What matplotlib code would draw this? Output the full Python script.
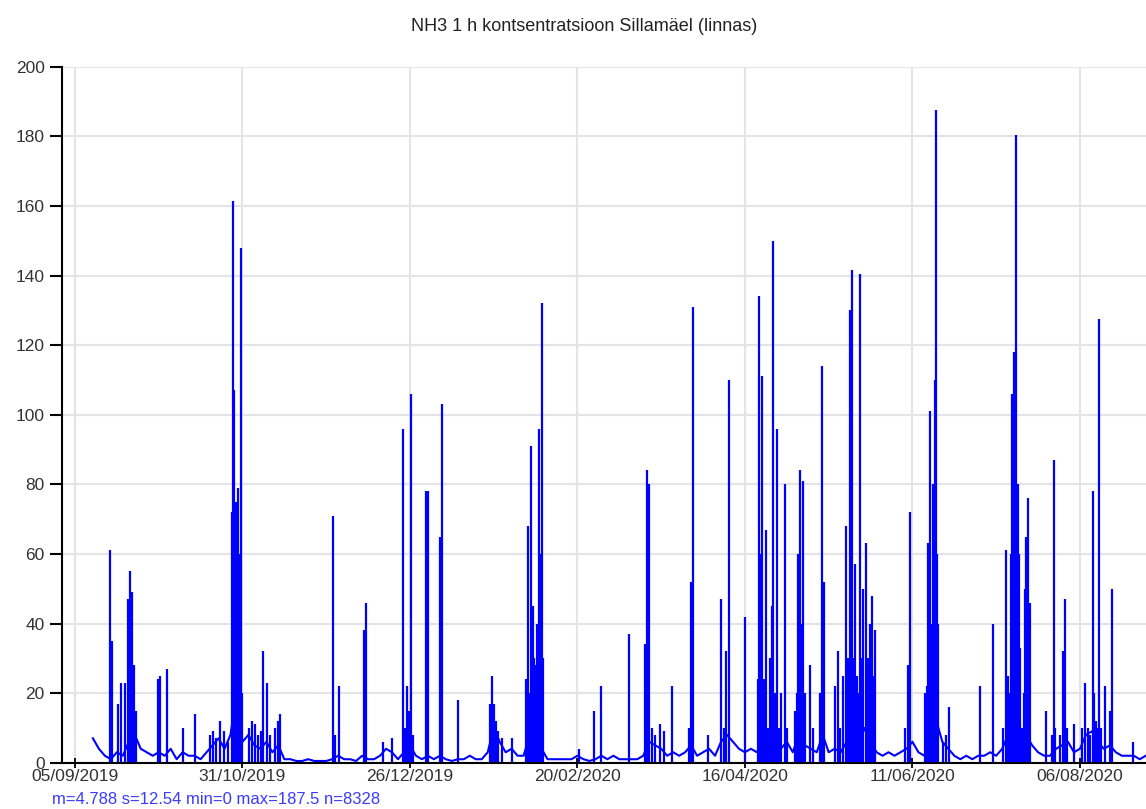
import numpy as np
import pandas as pd
import matplotlib
matplotlib.use('Agg')
import matplotlib.pyplot as plt

plt.rcParams['font.family'] = ['Liberation Sans', 'DejaVu Sans']

title = 'NH3 1 h kontsentratsioon Sillamäel (linnas)'
stats = 'm=4.788 s=12.54 min=0 max=187.5 n=8328'

tick_labels = ['05/09/2019', '31/10/2019', '26/12/2019', '20/02/2020',
               '16/04/2020', '11/06/2020', '06/08/2020']

# low background level, read roughly every second day from 11/09/2019
bg_start = '2019-09-11'
bg_vals = [7, 4, 2, 1, 3, 2, 6, 8, 4, 3, 2, 3, 2, 4, 1, 3, 2, 2, 1, 3,
           5, 7, 4, 8, 20, 6, 8, 5, 4, 6, 3, 5, 1, 1, 0.5, 0.5, 1, 0.5, 0.5, 0.5,
           1, 2, 1, 1, 0.5, 2, 1, 1, 2, 4, 3, 1, 3, 5, 2, 1, 2, 1, 2, 1,
           0.5, 1, 1, 2, 1, 1, 3, 10, 6, 3, 4, 2, 2, 8, 10, 4, 1, 1, 1, 1,
           1, 2, 1, 0.5, 1, 2, 1, 2, 1, 1, 1, 1, 2, 6, 5, 4, 2, 3, 2, 3,
           5, 2, 3, 4, 2, 6, 8, 6, 4, 3, 4, 3, 6, 8, 5, 4, 6, 3, 8, 5,
           4, 3, 8, 3, 4, 3, 6, 8, 5, 10, 6, 3, 2, 3, 2, 3, 4, 6, 3, 2,
           8, 12, 6, 4, 2, 1, 2, 1, 2, 2, 3, 2, 4, 8, 15, 10, 8, 5, 3, 2,
           2, 4, 5, 6, 3, 4, 8, 9, 6, 4, 5, 3, 2, 2, 2, 1, 2]

# hourly peaks
spike_times = [
    '2019-09-16 17:00', '2019-09-17 09:00', '2019-09-19 09:00', '2019-09-20 09:00',
    '2019-09-21 17:00', '2019-09-22 17:00', '2019-09-23 09:00', '2019-09-24 01:00',
    '2019-09-24 17:00', '2019-09-25 09:00', '2019-10-02 18:00', '2019-10-03 10:00',
    '2019-10-05 18:00', '2019-10-11 02:00', '2019-10-15 03:00', '2019-10-20 03:00',
    '2019-10-21 03:00', '2019-10-22 03:00', '2019-10-23 12:00', '2019-10-24 20:00',
    '2019-10-26 04:00', '2019-10-27 12:00', '2019-10-27 20:00', '2019-10-28 04:00',
    '2019-10-28 12:00', '2019-10-28 20:00', '2019-10-29 04:00', '2019-10-29 12:00',
    '2019-10-29 20:00', '2019-10-30 04:00', '2019-10-30 12:00', '2019-10-30 20:00',
    '2019-11-02 04:00', '2019-11-03 04:00', '2019-11-04 04:00', '2019-11-05 04:00',
    '2019-11-06 04:00', '2019-11-06 21:00', '2019-11-08 05:00', '2019-11-09 05:00',
    '2019-11-10 21:00', '2019-11-11 21:00', '2019-11-12 13:00', '2019-11-30 06:00',
    '2019-11-30 22:00', '2019-12-02 06:00', '2019-12-10 15:00', '2019-12-11 07:00',
    '2019-12-17 00:00', '2019-12-20 00:00', '2019-12-23 16:00', '2019-12-24 08:00',
    '2019-12-25 00:00', '2019-12-25 16:00', '2019-12-26 08:00', '2019-12-27 00:00',
    '2019-12-31 08:00', '2020-01-01 00:00', '2020-01-05 01:00', '2020-01-05 17:00',
    '2020-01-11 01:00', '2020-01-21 18:00', '2020-01-22 10:00', '2020-01-23 02:00',
    '2020-01-23 18:00', '2020-01-24 10:00', '2020-01-25 18:00', '2020-01-29 02:00',
    '2020-02-02 19:00', '2020-02-03 11:00', '2020-02-04 03:00', '2020-02-04 11:00',
    '2020-02-05 03:00', '2020-02-05 11:00', '2020-02-06 03:00', '2020-02-06 11:00',
    '2020-02-07 03:00', '2020-02-07 11:00', '2020-02-08 03:00', '2020-02-08 11:00',
    '2020-02-20 12:00', '2020-02-25 12:00', '2020-02-27 21:00', '2020-03-08 05:00',
    '2020-03-13 14:00', '2020-03-14 06:00', '2020-03-14 22:00', '2020-03-15 22:00',
    '2020-03-16 22:00', '2020-03-18 14:00', '2020-03-19 22:00', '2020-03-22 14:00',
    '2020-03-28 07:00', '2020-03-28 23:00', '2020-03-29 15:00', '2020-04-03 14:00',
    '2020-04-07 23:00', '2020-04-08 23:00', '2020-04-09 16:00', '2020-04-10 16:00',
    '2020-04-16 00:00', '2020-04-20 08:00', '2020-04-20 17:00', '2020-04-21 00:00',
    '2020-04-21 17:00', '2020-04-22 00:00', '2020-04-22 09:00', '2020-04-23 01:00',
    '2020-04-23 17:00', '2020-04-24 09:00', '2020-04-25 01:00', '2020-04-25 09:00',
    '2020-04-26 01:00', '2020-04-26 17:00', '2020-04-27 09:00', '2020-04-28 01:00',
    '2020-04-29 09:00', '2020-04-30 01:00', '2020-05-02 17:00', '2020-05-03 09:00',
    '2020-05-03 17:00', '2020-05-04 10:00', '2020-05-04 18:00', '2020-05-05 10:00',
    '2020-05-06 02:00', '2020-05-07 18:00', '2020-05-08 18:00', '2020-05-11 02:00',
    '2020-05-11 18:00', '2020-05-12 10:00', '2020-05-16 02:00', '2020-05-17 02:00',
    '2020-05-17 18:00', '2020-05-18 18:00', '2020-05-19 18:00', '2020-05-20 11:00',
    '2020-05-21 03:00', '2020-05-21 11:00', '2020-05-21 19:00', '2020-05-22 03:00',
    '2020-05-22 19:00', '2020-05-23 11:00', '2020-05-24 03:00', '2020-05-24 11:00',
    '2020-05-25 03:00', '2020-05-25 11:00', '2020-05-26 11:00', '2020-05-27 03:00',
    '2020-05-27 19:00', '2020-05-28 11:00', '2020-05-28 19:00', '2020-05-29 11:00',
    '2020-06-08 12:00', '2020-06-09 12:00', '2020-06-10 04:00', '2020-06-15 05:00',
    '2020-06-15 21:00', '2020-06-16 05:00', '2020-06-16 21:00', '2020-06-17 05:00',
    '2020-06-17 13:00', '2020-06-17 21:00', '2020-06-18 05:00', '2020-06-18 13:00',
    '2020-06-18 21:00', '2020-06-19 05:00', '2020-06-19 13:00', '2020-06-21 05:00',
    '2020-06-22 05:00', '2020-06-23 05:00', '2020-07-03 14:00', '2020-07-07 22:00',
    '2020-07-11 06:00', '2020-07-12 06:00', '2020-07-12 22:00', '2020-07-13 14:00',
    '2020-07-13 22:00', '2020-07-14 07:00', '2020-07-14 15:00', '2020-07-14 23:00',
    '2020-07-15 07:00', '2020-07-15 15:00', '2020-07-15 23:00', '2020-07-16 07:00',
    '2020-07-16 15:00', '2020-07-16 23:00', '2020-07-17 14:00', '2020-07-18 07:00',
    '2020-07-18 15:00', '2020-07-18 23:00', '2020-07-19 07:00', '2020-07-19 15:00',
    '2020-07-20 07:00', '2020-07-25 15:00', '2020-07-27 16:00', '2020-07-28 08:00',
    '2020-07-28 16:00', '2020-07-30 08:00', '2020-07-31 08:00', '2020-08-01 00:00',
    '2020-08-01 16:00', '2020-08-04 00:00', '2020-08-06 16:00', '2020-08-07 16:00',
    '2020-08-08 16:00', '2020-08-09 08:00', '2020-08-10 09:00', '2020-08-10 17:00',
    '2020-08-11 09:00', '2020-08-12 01:00', '2020-08-12 09:00', '2020-08-13 01:00',
    '2020-08-14 09:00', '2020-08-16 01:00', '2020-08-16 17:00', '2020-08-23 21:00',
    '2020-08-28 17:00']
spike_vals = [
    61, 35, 17, 23, 23, 47, 55, 49, 28, 15, 24, 25,
    27, 10, 14, 8, 9, 7, 12, 9, 6, 72, 161.5, 107,
    72, 75, 72, 79, 60, 40, 148, 20, 10, 12, 11, 8,
    9, 32, 23, 8, 10, 12, 14, 71, 8, 22, 38, 46,
    6, 7, 96, 10, 22, 15, 106, 8, 78, 78, 65, 103,
    18, 17, 25, 17, 12, 9, 7, 7, 24, 68, 20, 91,
    45, 30, 28, 40, 96, 60, 132, 30, 4, 15, 22, 37,
    34, 84, 80, 10, 8, 11, 9, 22, 10, 52, 131, 8,
    47, 10, 32, 110, 42, 24, 134, 60, 111, 20, 24, 67,
    10, 30, 45, 150, 20, 96, 10, 20, 80, 10, 15, 20,
    60, 84, 40, 81, 20, 28, 10, 20, 114, 52, 22, 32,
    10, 25, 68, 30, 130, 35, 141.5, 30, 57, 25, 20, 140.5,
    30, 50, 63, 30, 40, 48, 25, 38, 10, 28, 72, 20,
    22, 63, 101, 40, 24, 80, 70, 110, 187.5, 60, 40, 6,
    8, 16, 22, 40, 10, 61, 25, 20, 60, 106, 40, 118,
    50, 180.5, 33, 80, 60, 33, 10, 20, 50, 65, 30, 76,
    46, 15, 8, 87, 10, 8, 32, 47, 10, 11, 10, 23,
    10, 8, 78, 20, 12, 10, 127.5, 10, 22, 15, 50, 6,
    25]

bg_times = pd.date_range(bg_start, periods=len(bg_vals), freq='2D')
spike_t = pd.to_datetime(spike_times)
tick_pos = pd.to_datetime(tick_labels, format='%d/%m/%Y')

fig = plt.figure(figsize=(11.46, 8.09), dpi=100)
ax = fig.add_axes([62 / 1146, 46.3 / 809, 1084 / 1146, 696 / 809])

ax.plot(bg_times, bg_vals, color='#0000ff', lw=1.5)
ax.vlines(spike_t, 0, spike_vals, color='#0000ff', lw=1.6)

ax.set_xlim(pd.Timestamp('2019-08-31 16:00'), pd.Timestamp('2020-08-28 02:00'))
ax.set_ylim(0, 200)
ax.set_yticks(np.arange(0, 201, 20))
ax.set_xticks(tick_pos)
ax.set_xticklabels(tick_labels)

ax.grid(color='#e4e4e4', lw=1.5)
ax.set_axisbelow(True)
for s in ['top', 'right']:
    ax.spines[s].set_visible(False)
for s in ['left', 'bottom']:
    ax.spines[s].set_color('black')
    ax.spines[s].set_linewidth(1.5)

ax.tick_params(axis='y', direction='out', length=8.5, width=1.5,
               labelsize=12.5, pad=4, labelcolor='#333333')
ax.tick_params(axis='x', direction='inout', length=7, width=1.3,
               labelsize=12.5, pad=1, labelcolor='#333333')

fig.text(0.51, 0.967, title, ha='center', va='center', fontsize=13, color='#222222')
fig.text(52 / 1146, 1 - 800 / 809, stats, ha='left', va='center',
         fontsize=12, color='#3b3bff')

fig.savefig('out.png', dpi=100)
